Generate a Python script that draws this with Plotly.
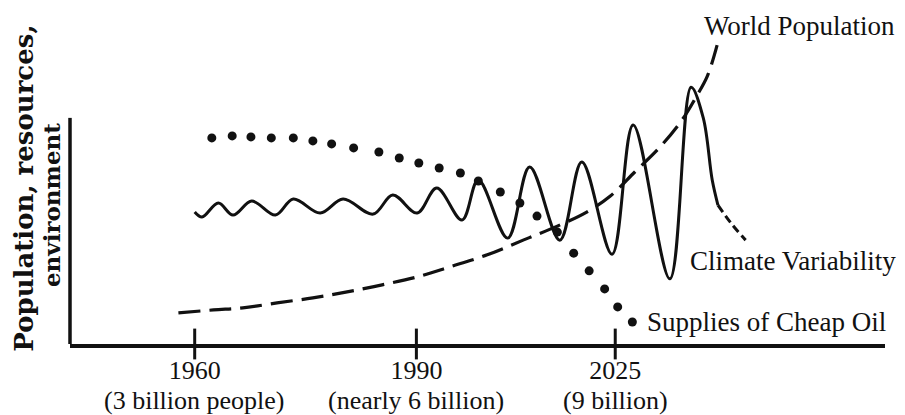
import plotly.graph_objects as go

# Schematic chart: horizontal position 0-100 (time, not linear in years), level 0-100
tick_pos = [15.3, 42.5, 66.9]
tick_years = ["1960", "1990", "2025"]
tick_notes = ["(3 billion people)", "(nearly 6 billion)", "(9 billion)"]

oil_x = [17.4, 19.9, 22.2, 24.7, 27.4, 29.8, 32.1, 34.8, 37.9, 40.4, 42.8, 45.3,
         47.9, 50.1, 52.8, 55.2, 57.3, 59.8, 61.8, 63.7, 65.6, 67.2, 69.0]
oil_y = [61.7, 62.3, 62.0, 61.7, 61.7, 60.8, 59.9, 58.7, 57.5, 55.7, 54.2, 52.7,
         51.2, 48.8, 45.5, 42.2, 38.3, 33.5, 27.2, 21.9, 16.5, 11.1, 6.6]

pop_x = [13.3, 17.6, 21.2, 25.4, 29.8, 34.0, 38.3, 42.6, 46.6, 51.2, 55.6, 59.8,
         63.4, 66.3, 69.3, 72.4, 75.1, 76.9, 78.2, 79.4]
pop_y = [9.3, 10.2, 10.8, 12.3, 13.8, 15.6, 17.7, 20.1, 23.1, 26.7, 31.1, 35.3,
         39.5, 44.3, 51.5, 59.0, 67.1, 74.3, 80.2, 89.5]

climate_x = [15.3, 16.2, 18.2, 20.0, 22.3, 25.2, 27.4, 30.7, 33.5, 37.2, 39.6, 42.6,
             45.0, 48.1, 50.1, 53.7, 56.4, 60.1, 62.8, 66.5, 69.1, 73.6, 76.2, 77.7,
             78.8, 79.5]
climate_y = [39.5, 38.0, 42.2, 38.6, 42.8, 38.6, 43.4, 39.2, 43.4, 38.9, 44.6, 39.2,
             46.7, 37.1, 49.1, 31.7, 53.0, 31.1, 54.5, 26.9, 65.6, 19.5, 76.9, 67.7,
             49.1, 41.6]
climate_tail_x = [79.5, 81.2, 82.9]
climate_tail_y = [41.6, 35.9, 31.1]

labels = ["World Population", "Climate Variability", "Supplies of Cheap Oil"]
label_x = [77.6, 75.8, 70.6]
label_y = [95.2, 24.9, 6.6]

SERIF = "Liberation Serif"
INK = "#111111"

fig = go.Figure()

fig.add_trace(go.Scatter(x=pop_x, y=pop_y, mode="lines",
                         line=dict(color=INK, width=3.2, dash="22px,9px", shape="spline", smoothing=1.0),
                         hoverinfo="skip", showlegend=False))
fig.add_trace(go.Scatter(x=climate_x, y=climate_y, mode="lines",
                         line=dict(color=INK, width=3, shape="spline", smoothing=1.0),
                         hoverinfo="skip", showlegend=False))
fig.add_trace(go.Scatter(x=climate_tail_x, y=climate_tail_y, mode="lines",
                         line=dict(color=INK, width=3, dash="8px,5px", shape="spline"),
                         hoverinfo="skip", showlegend=False))
fig.add_trace(go.Scatter(x=oil_x, y=oil_y, mode="markers",
                         marker=dict(color=INK, size=9),
                         hoverinfo="skip", showlegend=False))
# tick marks crossing the axis
fig.add_trace(go.Scatter(x=tick_pos, y=[0] * len(tick_pos), mode="markers",
                         marker=dict(symbol="line-ns", size=22, line=dict(color=INK, width=3)),
                         cliponaxis=False, hoverinfo="skip", showlegend=False))

annotations = []
for t, xx, yy in zip(labels, label_x, label_y):
    annotations.append(dict(text=t, x=xx, y=yy, xref="x", yref="y", xanchor="left",
                            yanchor="middle", showarrow=False,
                            font=dict(family=SERIF, size=27, color=INK)))
for t, xx in zip(tick_notes, tick_pos):
    annotations.append(dict(text=t, x=xx, y=0, xref="x", yref="paper", xanchor="center",
                            yanchor="middle", yshift=-56, showarrow=False,
                            font=dict(family=SERIF, size=26, color=INK)))
annotations.append(dict(text="<b>Population, resources,</b>", x=0, y=46.5, xref="paper", yref="y",
                        xshift=-46, textangle=-90, showarrow=False, xanchor="center", yanchor="middle",
                        font=dict(family="DejaVu Serif", size=26, color=INK)))
annotations.append(dict(text="<b>environment</b>", x=0, y=41.6, xref="paper", yref="y",
                        xshift=-19, textangle=-90, showarrow=False, xanchor="center", yanchor="middle",
                        font=dict(family="DejaVu Serif", size=23, color=INK)))

fig.update_layout(
    width=905, height=415,
    margin=dict(l=70, r=20, t=10, b=71),
    paper_bgcolor="white", plot_bgcolor="white",
    annotations=annotations,
    shapes=[dict(type="line", xref="paper", yref="y", x0=0, x1=0, y0=-1.2, y1=67.7,
                 line=dict(color=INK, width=3.5))],
    xaxis=dict(range=[0, 100], showgrid=False, zeroline=False, showline=True,
               linecolor=INK, linewidth=3.5, ticks="", tickvals=tick_pos, ticktext=tick_years,
               tickfont=dict(family=SERIF, size=26, color=INK), fixedrange=True),
    yaxis=dict(range=[0, 100], visible=False, fixedrange=True),
)

fig.write_html("out.html", config={"displayModeBar": False},
               post_script="document.body.style.margin='0';document.body.style.overflow='hidden';")
